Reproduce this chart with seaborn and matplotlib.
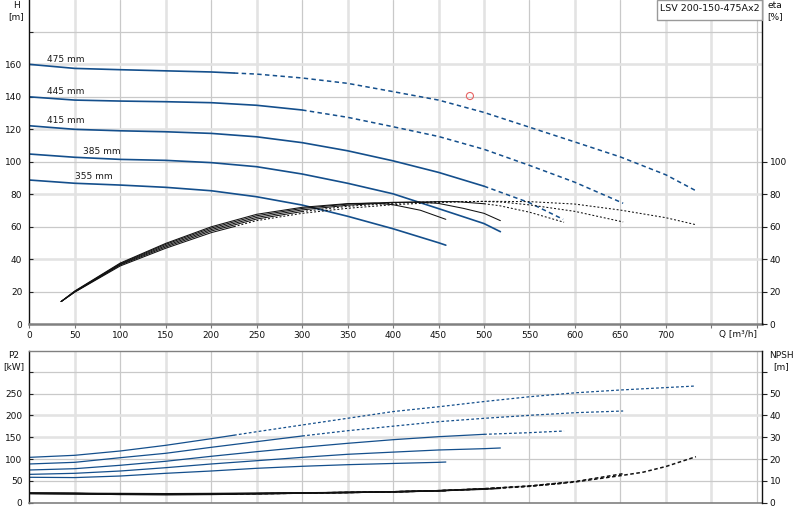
import numpy as np
import pandas as pd
import matplotlib
matplotlib.use("Agg")
import matplotlib.pyplot as plt
import seaborn as sns
from matplotlib.patches import Rectangle

# ---------------- data ----------------
diameters = ["475 mm", "445 mm", "415 mm", "385 mm", "355 mm"]
model_name = "LSV 200-150-475Ax2"
x_ticks = [0, 50, 100, 150, 200, 250, 300, 350, 400, 450, 500, 550, 600, 650, 700, 750, 800]
x_labels = ["0", "50", "100", "150", "200", "250", "300", "350", "400", "450", "500", "550", "600", "650", "700", "", ""]
h_ticks = [0, 20, 40, 60, 80, 100, 120, 140, 160, 180]
h_labels = ["0", "20", "40", "60", "80", "100", "120", "140", "160", ""]
eta_ticks = [0, 20, 40, 60, 80, 100]
p2_ticks = [0, 50, 100, 150, 200, 250, 300]
p2_labels = ["0", "50", "100", "150", "200", "250", ""]
npsh_ticks = [0, 10, 20, 30, 40, 50, 60]
npsh_labels = ["0", "10", "20", "30", "40", "50", ""]

# end of the allowed (solid) operating range per diameter
solid_limit = [225, 300, 500, 10000, 10000]

# head curves H [m]
q_h_475 = [0, 50, 100, 150, 200, 250, 300, 350, 400, 450, 500, 550, 600, 650, 700, 733]
h_475 = [160, 157.5, 156.7, 156, 155.3, 154, 151.6, 148.3, 143.2, 138, 130.4, 121.3, 112.2, 103, 92, 82.2]
q_h_445 = [0, 50, 100, 150, 200, 250, 300, 350, 400, 450, 500, 550, 600, 653]
h_445 = [140, 138, 137.4, 137, 136.4, 134.8, 131.9, 127.4, 121.6, 115.6, 107.7, 97.8, 87.4, 74.5]
q_h_415 = [0, 50, 100, 150, 200, 250, 300, 350, 400, 450, 500, 550, 587]
h_415 = [122.2, 120, 119.1, 118.5, 117.5, 115.4, 111.8, 106.8, 100.6, 93.5, 85, 74.8, 64.6]
q_h_385 = [0, 50, 100, 150, 200, 250, 300, 350, 400, 450, 500, 518]
h_385 = [104.8, 102.8, 101.5, 100.9, 99.5, 97, 92.5, 86.8, 80.3, 71.2, 62, 57]
q_h_355 = [0, 50, 100, 150, 200, 250, 300, 350, 400, 450, 458]
h_355 = [88.8, 86.8, 85.7, 84.3, 82.2, 78.5, 73.4, 66.5, 58.8, 50.2, 48.7]

# efficiency curves eta [%]
q_e_475 = [35, 50, 100, 150, 200, 250, 300, 350, 400, 450, 500, 550, 600, 650, 700, 733]
e_475 = [14, 19.8, 35.9, 46.8, 56.4, 63.8, 68.3, 71.4, 73.6, 75, 75.7, 75.5, 74, 70.3, 65.6, 61.3]
q_e_445 = [35, 50, 100, 150, 200, 250, 300, 350, 400, 450, 500, 520, 550, 600, 653]
e_445 = [14, 19.9, 36.5, 47.6, 57.4, 64.8, 69.4, 72.6, 74.5, 75.5, 75.6, 75.2, 73.5, 69.5, 63]
q_e_415 = [35, 50, 100, 150, 200, 250, 300, 350, 400, 450, 470, 500, 517, 550, 588]
e_415 = [14, 20.1, 36.9, 48.4, 58.3, 65.8, 70.4, 73.3, 74.9, 75.5, 75.5, 74.2, 73, 69, 62.8]
q_e_385 = [35, 50, 100, 150, 200, 250, 300, 350, 400, 430, 450, 477, 500, 518]
e_385 = [14, 20.3, 37.3, 49.2, 59.2, 66.8, 71.3, 74, 75.1, 75.2, 74.4, 71.4, 68.3, 63.8]
q_e_355 = [35, 50, 100, 150, 200, 250, 300, 350, 380, 400, 430, 458]
e_355 = [14, 20.5, 37.7, 49.8, 60, 67.7, 72, 74.3, 74.6, 73.6, 70.2, 64.6]

# shaft power P2 [kW]
q_p_475 = [0, 50, 100, 150, 200, 250, 300, 350, 400, 450, 500, 550, 600, 650, 700, 733]
p_475 = [104, 108.7, 118.6, 131.6, 146.8, 162.8, 178.2, 193.6, 209, 220, 232, 243, 252, 258.5, 264, 267.7]
q_p_445 = [0, 50, 100, 150, 200, 250, 300, 350, 400, 450, 500, 550, 600, 653]
p_445 = [88.8, 92.6, 103.2, 113.3, 127, 140, 153, 165.1, 175.5, 185.8, 193.5, 200.4, 206.4, 210.3]
q_p_415 = [0, 50, 100, 150, 200, 250, 300, 350, 400, 450, 500, 550, 588]
p_415 = [75, 78, 85.8, 95, 106.4, 117, 127, 136.2, 144.5, 151.4, 156.8, 160.6, 164.4]
q_p_385 = [0, 50, 100, 150, 200, 250, 300, 350, 400, 450, 500, 518]
p_385 = [65, 67.4, 72.7, 80.3, 88.8, 96.3, 104, 111, 116, 120.9, 123.9, 125.5]
q_p_355 = [0, 50, 100, 150, 200, 250, 300, 350, 400, 450, 458]
p_355 = [58.3, 57.6, 61.2, 67.4, 72.7, 78.9, 83.5, 87.2, 90, 92.6, 93.3]

# NPSH [m]
q_n_475 = [0, 50, 100, 150, 200, 250, 300, 350, 400, 450, 500, 550, 600, 650, 675, 700, 733]
n_475 = [4.3, 4.2, 3.8, 3.7, 3.8, 4.1, 4.4, 4.7, 5.0, 5.5, 6.3, 7.5, 9.5, 12.4, 14.0, 16.6, 21.1]
q_n_445 = [0, 50, 100, 150, 200, 250, 300, 350, 400, 450, 500, 550, 600, 653]
n_445 = [4.3, 4.2, 3.9, 3.8, 3.9, 4.1, 4.4, 4.7, 5.0, 5.5, 6.4, 7.7, 9.7, 13.3]
q_n_415 = [0, 50, 100, 150, 200, 250, 300, 350, 400, 450, 500, 550, 588]
n_415 = [4.3, 4.2, 4.0, 3.9, 4.0, 4.2, 4.4, 4.7, 5.0, 5.5, 6.4, 7.6, 9.0]
q_n_385 = [0, 50, 100, 150, 200, 250, 300, 350, 400, 450, 500, 518]
n_385 = [4.3, 4.2, 4.1, 4.0, 4.1, 4.2, 4.4, 4.7, 5.0, 5.5, 6.2, 6.6]
q_n_355 = [0, 50, 100, 150, 200, 250, 300, 350, 400, 458]
n_355 = [4.3, 4.2, 4.2, 4.1, 4.2, 4.3, 4.5, 4.7, 5.0, 5.5]

duty_q = [484.5]
duty_h = [140.5]

label_q = [19.5, 19.5, 19.5, 59, 50]

H = [(q_h_475, h_475), (q_h_445, h_445), (q_h_415, h_415), (q_h_385, h_385), (q_h_355, h_355)]
ETA = [(q_e_475, e_475), (q_e_445, e_445), (q_e_415, e_415), (q_e_385, e_385), (q_e_355, e_355)]
P2 = [(q_p_475, p_475), (q_p_445, p_445), (q_p_415, p_415), (q_p_385, p_385), (q_p_355, p_355)]
NP = [(q_n_475, n_475), (q_n_445, n_445), (q_n_415, n_415), (q_n_385, n_385), (q_n_355, n_355)]

# ---------------- style ----------------
sns.set_style("white")
plt.rcParams["font.family"] = ["DejaVu Sans"]
plt.rcParams["font.size"] = 6.5
plt.rcParams["lines.scale_dashes"] = False

BLUE = "#144f8c"
FS = 6.5
GRID_THIN = dict(color="#c9c9c9", lw=0.9)
GRID_THICK = dict(color="#e3e3e3", lw=1.9)
thick_v = {50, 150, 250, 350, 450, 500, 600, 700, 750}
thick_h_top = {40, 80, 120, 160}
thick_h_bot = {150, 200}


def split(q, v, lim):
    q = np.asarray(q, float)
    v = np.asarray(v, float)
    if lim >= q.max():
        return pd.DataFrame({"Q": q, "V": v}), None
    vl = float(np.interp(lim, q, v))
    m1 = q < lim
    m2 = q > lim
    a = pd.DataFrame({"Q": np.r_[q[m1], lim], "V": np.r_[v[m1], vl]})
    b = pd.DataFrame({"Q": np.r_[lim, q[m2]], "V": np.r_[vl, v[m2]]})
    return a, b


def draw(ax, curves, color, lw, dash, solid_lw=None):
    for (q, v), lim in zip(curves, solid_limit):
        a, b = split(q, v, lim)
        sns.lineplot(data=a, x="Q", y="V", ax=ax, color=color, lw=solid_lw or lw,
                     sort=False, estimator=None)
        if b is not None:
            sns.lineplot(data=b, x="Q", y="V", ax=ax, color=color, lw=lw,
                         linestyle=dash, sort=False, estimator=None)


fig = plt.figure(figsize=(8, 5.2), dpi=100)
L = 29.3 / 800
W = 733.0 / 800
ax1 = fig.add_axes([L, 1 - 324.3 / 520, W, 324.3 / 520])
ax2 = fig.add_axes([L, 1 - 502.7 / 520, W, 152.0 / 520])
ax1r = ax1.twinx()
ax2r = ax2.twinx()

XMAX = 806
ax1.set_xlim(0, XMAX)
ax1.set_ylim(0, 199.6)
ax1r.set_ylim(0, 199.6)
ax2.set_xlim(0, XMAX)
ax2.set_ylim(0, 348.6)
ax2r.set_ylim(0, 348.6 / 5)

# grid lines (drawn first, below curves)
for ax, hticks, thick_h in ((ax1, h_ticks, thick_h_top), (ax2, p2_ticks, thick_h_bot)):
    ax.grid(False)
    for t in x_ticks[1:]:
        ax.axvline(t, zorder=0.5, **(GRID_THICK if t in thick_v else GRID_THIN))
    for t in hticks[1:]:
        ax.axhline(t, zorder=0.5, **(GRID_THICK if t in thick_h else GRID_THIN))

# curves
draw(ax1, H, BLUE, 1.1, (0, (3.2, 2.4)), solid_lw=1.2)
draw(ax1r, ETA, "#111111", 0.75, (0, (1.4, 1.4)))
draw(ax2, P2, BLUE, 0.9, (0, (2.0, 1.6)))
draw(ax2r, NP, "#111111", 1.1, (0, (2.6, 1.8)))

for (q, v), name, lq in zip(H, diameters, label_q):
    ax1.text(lq, float(np.interp(lq, q, v)) + 1.3, name, ha="left", va="bottom",
             fontsize=FS, color="#1a1a1a")

sns.scatterplot(x=duty_q, y=duty_h, ax=ax1, marker="o", s=26, color="none",
                edgecolor="#e86464", linewidth=0.8, zorder=5)

for ax in (ax1, ax1r, ax2, ax2r):
    ax.set_xlabel("")
    ax.set_ylabel("")

# ticks
for ax in (ax1, ax2):
    ax.set_xticks(x_ticks)
ax1.set_xticklabels(x_labels)
ax2.set_xticklabels([])
ax1.set_yticks(h_ticks)
ax1.set_yticklabels(h_labels)
ax2.set_yticks(p2_ticks)
ax2.set_yticklabels(p2_labels)
ax1r.set_yticks(eta_ticks)
ax1r.set_yticklabels([str(t) for t in eta_ticks])
ax2r.set_yticks(npsh_ticks)
ax2r.set_yticklabels(npsh_labels)
ax1r.grid(False)
ax2r.grid(False)

for ax in (ax1, ax2):
    ax.tick_params(axis="y", direction="in", length=3, width=0.8, color="#222222",
                   pad=5, labelsize=FS, labelcolor="#111111", left=True)
ax1.tick_params(axis="x", direction="out", length=3, width=0.8, color="#777777",
                pad=2, labelsize=FS, labelcolor="#111111", bottom=True)
ax2.tick_params(axis="x", length=0)
for ax in (ax1r, ax2r):
    ax.tick_params(axis="y", direction="out", length=3.5, width=0.8, color="#222222",
                   pad=1.8, labelsize=FS, labelcolor="#111111", right=True)

# spines
ax1.spines["top"].set_visible(False)
ax1.spines["right"].set_visible(False)
ax1.spines["bottom"].set_color("#808080")
ax1.spines["bottom"].set_linewidth(1.8)
ax1.spines["left"].set_color("#111111")
ax1.spines["left"].set_linewidth(1.0)
ax2.spines["right"].set_visible(False)
ax2.spines["top"].set_color("#808080")
ax2.spines["top"].set_linewidth(1.0)
ax2.spines["bottom"].set_color("#808080")
ax2.spines["bottom"].set_linewidth(1.2)
ax2.spines["left"].set_color("#111111")
ax2.spines["left"].set_linewidth(1.0)
for ax in (ax1r, ax2r):
    for s in ("top", "bottom", "left"):
        ax.spines[s].set_visible(False)
    ax.spines["right"].set_color("#111111")
    ax.spines["right"].set_linewidth(1.0)

# axis titles
def ftxt(x, y, s, ha="center"):
    fig.text(x / 800, 1 - y / 520, s, ha=ha, va="center", fontsize=FS, color="#111111")

ftxt(16, 5, "H")
ftxt(16, 17, "[m]")
ftxt(775, 5, "eta")
ftxt(775, 17, "[%]")
ftxt(13.7, 355, "P2")
ftxt(13.7, 367, "[kW]")
ftxt(781, 355, "NPSH")
ftxt(781, 367, "[m]")
ftxt(757, 334.3, "Q [m³/h]", ha="right")

# model box
fig.add_artist(Rectangle((656.7 / 800, 1 - 19.5 / 520), 105.6 / 800, 19.5 / 520,
                         transform=fig.transFigure, fc="white", ec="#9a9a9a", lw=1.0))
fig.text(709.5 / 800, 1 - 8.5 / 520, model_name, ha="center", va="center",
         fontsize=6.8, color="#111111")

fig.savefig("out.png", dpi=100)
